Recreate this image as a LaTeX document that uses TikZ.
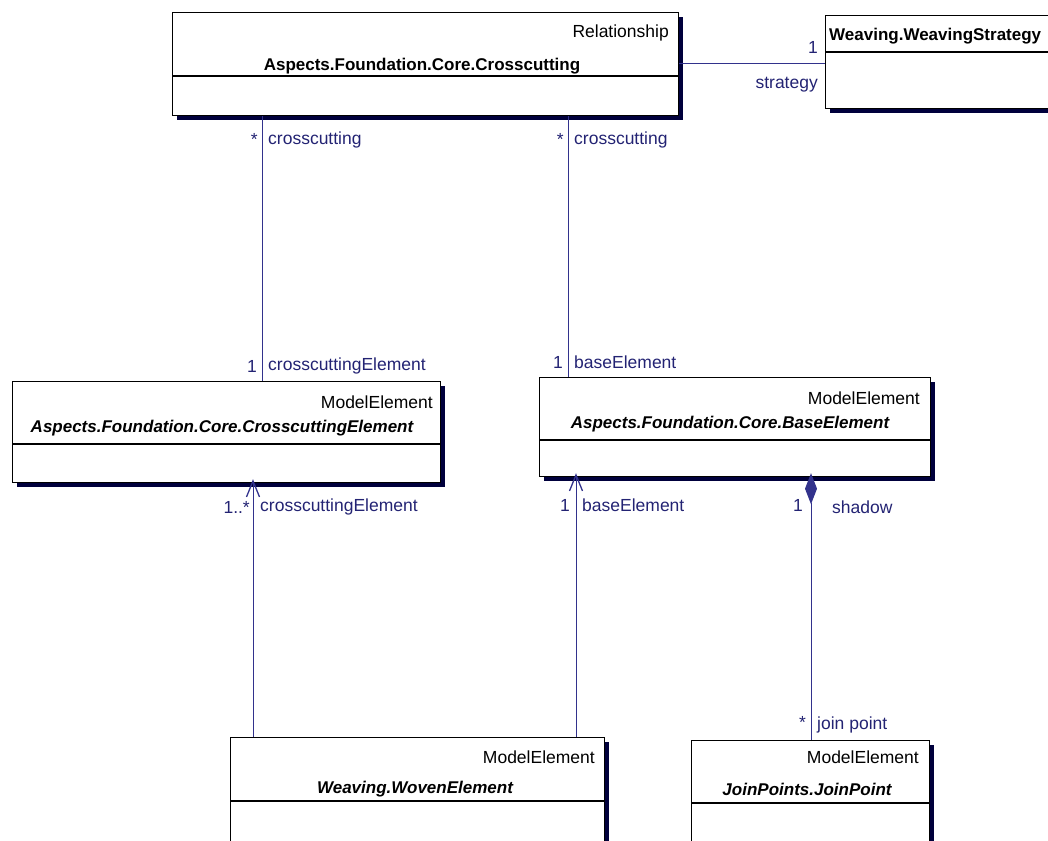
\documentclass[tikz,border=0pt]{standalone}
\usepackage{fontspec}
\setmainfont{Liberation Sans}
\usetikzlibrary{arrows.meta,shadows}
\definecolor{umlline}{RGB}{50,50,140}
\definecolor{umltext}{RGB}{35,35,115}
\definecolor{umlshadow}{RGB}{0,0,60}

\begin{document}
\begin{tikzpicture}[x=1pt,y=-1pt,
        classbox/.style={draw, line width=1.2pt, fill=white, anchor=north west, inner sep=0pt,
                drop shadow={shadow xshift=4pt, shadow yshift=-4pt, fill=umlshadow, opacity=1}},
        stereo/.style={inner sep=0pt, font=\fontsize{17.5}{20}\selectfont},
        cname/.style={inner sep=0pt, font=\fontsize{17}{20}\selectfont\bfseries},
        aname/.style={inner sep=0pt, font=\fontsize{17}{20}\selectfont\bfseries\itshape},
        lbl/.style={inner sep=0pt, text=umltext, font=\fontsize{17.5}{20}\selectfont},
        assoc/.style={draw=umlline, line width=1pt},
        nav/.style={assoc, -{Straight Barb[length=16pt,width=13pt,line width=1.3pt]}, shorten >=-4pt},
        comp/.style={assoc, {Diamond[length=31pt,width=12pt,fill=umlline]}-, shorten <=-4pt}]
        \useasboundingbox (0,0) rectangle (1048,840);
        % classes
        \node[classbox, minimum width=506pt, minimum height=103pt](cross) at (172,12) {};
        \node[classbox, minimum width=245pt, minimum height=93pt](strat) at (825,15) {};
        \node[classbox, minimum width=428pt, minimum height=101pt](ce) at (12,381) {};
        \node[classbox, minimum width=391pt, minimum height=99pt](be) at (539,377) {};
        \node[classbox, minimum width=374pt, minimum height=110pt](we) at (230,737) {};
        \node[classbox, minimum width=238pt, minimum height=106pt](jp) at (691,740) {};
        \draw[line width=1.2pt](cross.west |- 0,76)--(cross.east |- 0,76);
        \draw[line width=1.2pt](strat.west |- 0,52)--(strat.east |- 0,52);
        \draw[line width=1.2pt](ce.west |- 0,444)--(ce.east |- 0,444);
        \draw[line width=1.2pt](be.west |- 0,440)--(be.east |- 0,440);
        \draw[line width=1.2pt](we.west |- 0,801)--(we.east |- 0,801);
        \draw[line width=1.2pt](jp.west |- 0,803)--(jp.east |- 0,803);
        % class texts
        \node[stereo, anchor=east](crossst) at (669,33) {Relationship};
        \node[cname](crossnm) at (422,66) {Aspects.Foundation.Core.Crosscutting};
        \node[cname, anchor=west](stratnm) at (829,36) {Weaving.WeavingStrategy};
        \node[stereo, anchor=east](cest) at (433,402) {ModelElement};
        \node[aname](cenm) at (222,428) {Aspects.Foundation.Core.CrosscuttingElement};
        \node[stereo, anchor=east](best) at (920,398) {ModelElement};
        \node[aname](benm) at (730,424) {Aspects.Foundation.Core.BaseElement};
        \node[stereo, anchor=east](west) at (595,757) {ModelElement};
        \node[aname](wenm) at (415,789) {Weaving.WovenElement};
        \node[stereo, anchor=east](jpst) at (919,757) {ModelElement};
        \node[aname](jpnm) at (807,789) {JoinPoints.JoinPoint};
        % associations
        \draw[assoc](cross.east |- 0,64)--(strat.west |- 0,64);
        \draw[assoc](cross.south -| 262,0)--(ce.north -| 262,0);
        \draw[assoc](cross.south -| 568,0)--(be.north -| 568,0);
        \draw[nav](we.north -| 253,0)--(ce.south -| 253,0);
        \draw[nav](we.north -| 576,0)--(be.south -| 576,0);
        \draw[comp](be.south -| 811,0)--(jp.north -| 811,0);
        % role names and multiplicities
        \node[lbl, anchor=east](m1) at (818,47) {1};
        \node[lbl, anchor=east](r1) at (818,85) {strategy};
        \node[lbl, anchor=east](m2) at (258,139) {*};
        \node[lbl, anchor=west](r2) at (268,140) {crosscutting};
        \node[lbl, anchor=east](m3) at (564,139) {*};
        \node[lbl, anchor=west](r3) at (574,140) {crosscutting};
        \node[lbl, anchor=east](m4) at (257,366) {1};
        \node[lbl, anchor=west](r4) at (268,366) {crosscuttingElement};
        \node[lbl, anchor=east](m5) at (563,362) {1};
        \node[lbl, anchor=west](r5) at (574,362) {baseElement};
        \node[lbl, anchor=east](m6) at (250,507) {1..*};
        \node[lbl, anchor=west](r6) at (260,507) {crosscuttingElement};
        \node[lbl, anchor=east](m7) at (570,505) {1};
        \node[lbl, anchor=west](r7) at (582,505) {baseElement};
        \node[lbl, anchor=east](m8) at (803,505) {1};
        \node[lbl, anchor=west](r8) at (832,507) {shadow};
        \node[lbl, anchor=east](m9) at (806,722) {*};
        \node[lbl, anchor=west](r9) at (817,725) {join point};
\end{tikzpicture}
\end{document}
